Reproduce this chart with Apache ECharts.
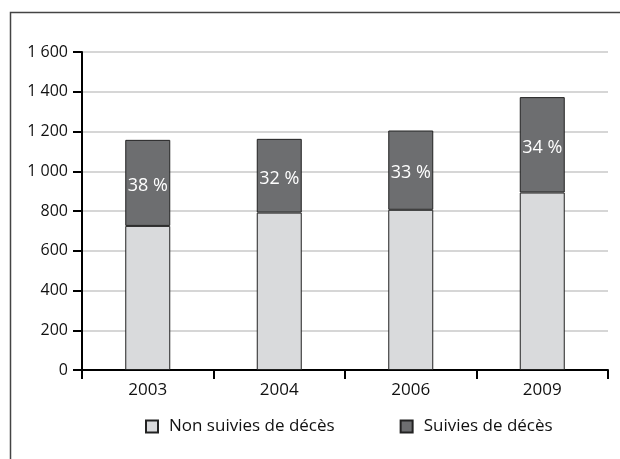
<!DOCTYPE html>
<html>
<head>
<meta charset="utf-8">
<script src="https://cdn.jsdelivr.net/npm/echarts@6/dist/echarts.min.js"></script>
<style>
  html, body { margin: 0; padding: 0; background: #fff; }
  #chart { width: 620px; height: 459px; }
</style>
</head>
<body>
<div id="chart"></div>
<script>
// données
var annees = ['2003', '2004', '2006', '2009'];
var nonSuivies = [725, 792, 806, 893];
var suivies = [433, 371, 399, 480];
var pourcentages = ['38 %', '32 %', '33 %', '34 %'];

var chart = echarts.init(document.getElementById('chart'));

var police = '"Open Sans", "Noto Sans", sans-serif';

var option = {
    backgroundColor: '#fff',
    animation: false,
    // cadre autour du graphique
    graphic: [{
        type: 'rect',
        shape: { x: 10.5, y: 12.5, width: 700, height: 600 },
        style: { fill: 'none', stroke: '#444', lineWidth: 1.5 },
        silent: true
    }],
    grid: {
        left: 82,
        right: 12,
        top: 52,
        bottom: 89
    },
    legend: {
        bottom: 19,
        left: 140,
        itemGap: 65,
        itemWidth: 12,
        itemHeight: 12,
        icon: 'rect',
        textStyle: { fontFamily: police, fontSize: 17, color: '#111', padding: [0, 0, 0, 6] },
        data: ['Non suivies de décès', 'Suivies de décès']
    },
    xAxis: {
        type: 'category',
        data: annees,
        axisLine: { lineStyle: { color: '#000', width: 2 } },
        axisTick: { show: true, length: 9, lineStyle: { color: '#000', width: 2 } },
        axisLabel: { fontFamily: police, fontSize: 17, color: '#111', margin: 12 }
    },
    yAxis: {
        type: 'value',
        min: 0,
        max: 1600,
        interval: 200,
        axisLine: { show: true, lineStyle: { color: '#000', width: 2 } },
        axisTick: { show: true, length: 9, lineStyle: { color: '#000', width: 2 } },
        axisLabel: {
            fontFamily: police, fontSize: 16, color: '#111', margin: 14,
            formatter: function (v) {
                return v >= 1000 ? Math.floor(v / 1000) + ' ' + String(v % 1000).padStart(3, '0') : String(v);
            }
        },
        splitLine: { lineStyle: { color: '#c8c8c8', width: 1.5 } }
    },
    series: [{
        name: 'Non suivies de décès',
        type: 'bar',
        stack: 'total',
        barWidth: 45,
        data: nonSuivies,
        itemStyle: { color: '#d9dadc', borderColor: '#222', borderWidth: 1 }
    }, {
        name: 'Suivies de décès',
        type: 'bar',
        stack: 'total',
        barWidth: 45,
        data: suivies,
        itemStyle: { color: '#6d6e70', borderColor: '#222', borderWidth: 1 },
        label: {
            show: true,
            position: 'inside',
            offset: [0, 3],
            fontFamily: police,
            fontSize: 18,
            color: '#fff',
            formatter: function (p) { return pourcentages[p.dataIndex]; }
        }
    }]
};

chart.setOption(option);
</script>
</body>
</html>
